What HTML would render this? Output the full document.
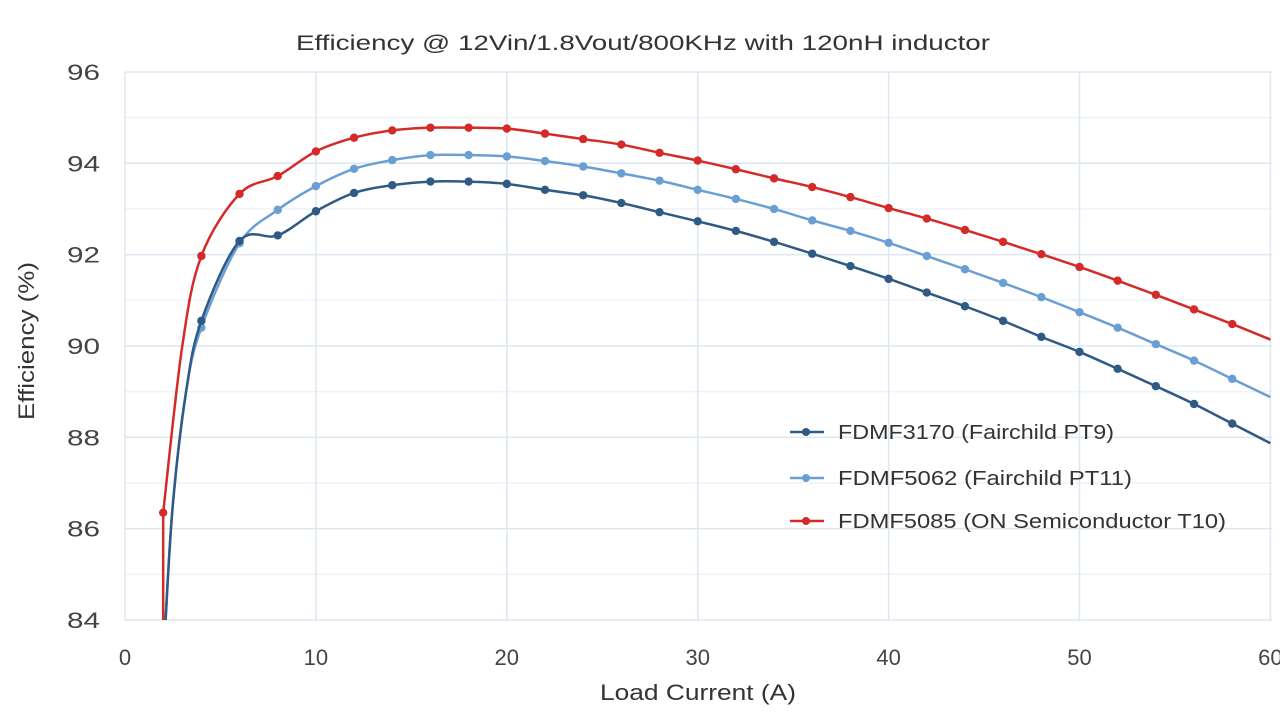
<!DOCTYPE html>
<html><head><meta charset="utf-8"><style>
html,body{margin:0;padding:0;background:#fff;}
svg text{font-family:"Liberation Sans",sans-serif;}
</style></head><body>
<svg id="s" width="1280" height="721" xmlns="http://www.w3.org/2000/svg">
<defs><clipPath id="c"><rect x="125" y="60" width="1150" height="560"/></clipPath></defs>
<g id="grid"></g>
<text x="296" y="50" font-size="21" fill="#333" textLength="694" lengthAdjust="spacingAndGlyphs">Efficiency @ 12Vin/1.8Vout/800KHz with 120nH inductor</text>
<g id="yl" font-size="22" fill="#444" text-anchor="end"></g>
<g id="xl" font-size="22" fill="#444" text-anchor="middle"></g>
<text x="600" y="700" font-size="22" fill="#333" textLength="196" lengthAdjust="spacingAndGlyphs">Load Current (A)</text>
<text transform="translate(34,420) rotate(-90)" font-size="22" fill="#333" textLength="158" lengthAdjust="spacingAndGlyphs">Efficiency (%)</text>
<g id="series" clip-path="url(#c)"></g>
<g font-size="20" fill="#333">
<line x1="790" y1="432" x2="824" y2="432" stroke="#2f5a84" stroke-width="2.5"/><circle cx="806" cy="432" r="4" fill="#2f5a84"/>
<text x="838" y="439" textLength="276" lengthAdjust="spacingAndGlyphs">FDMF3170 (Fairchild PT9)</text>
<line x1="790" y1="478" x2="824" y2="478" stroke="#6a9fd4" stroke-width="2.5"/><circle cx="806" cy="478" r="4" fill="#6a9fd4"/>
<text x="838" y="485" textLength="294" lengthAdjust="spacingAndGlyphs">FDMF5062 (Fairchild PT11)</text>
<line x1="790" y1="521" x2="824" y2="521" stroke="#d42a2a" stroke-width="2.5"/><circle cx="806" cy="521" r="4" fill="#d42a2a"/>
<text x="838" y="528" textLength="388" lengthAdjust="spacingAndGlyphs">FDMF5085 (ON Semiconductor T10)</text>
</g>
</svg>
<script>
const X=v=>125+v*19.09, Y=v=>620-(v-84)*45.67;
const ns="http://www.w3.org/2000/svg";
function el(p,t,a,txt){const e=document.createElementNS(ns,t);for(const k in a)e.setAttribute(k,a[k]);if(txt!==undefined)e.textContent=txt;document.getElementById(p).appendChild(e);}
for(let v=84;v<=96;v++){el("grid","line",{x1:125,x2:1272,y1:Y(v),y2:Y(v),stroke:v%2?"#eef3f8":"#dde7f1","stroke-width":1.5});}
for(let v=0;v<=60;v+=10){el("grid","line",{x1:X(v),x2:X(v),y1:72,y2:620,stroke:"#dde7f1","stroke-width":1.5});}
for(let v=84;v<=96;v+=2)el("yl","text",{x:100,y:Y(v)+8,textLength:33,lengthAdjust:"spacingAndGlyphs"},v);
for(let v=0;v<=60;v+=10)el("xl","text",{x:X(v),y:665},v);
const xs=[];for(let i=4;i<=60;i+=2)xs.push(i);
const red=[86.35,91.97,93.33,93.72,94.26,94.56,94.72,94.78,94.78,94.76,94.65,94.53,94.41,94.23,94.06,93.87,93.67,93.48,93.26,93.02,92.79,92.54,92.28,92.01,91.73,91.43,91.12,90.80,90.48,90.14];
const dk=[90.55,92.3,92.42,92.95,93.35,93.52,93.6,93.6,93.55,93.42,93.3,93.13,92.93,92.73,92.52,92.28,92.02,91.75,91.47,91.17,90.87,90.55,90.2,89.87,89.5,89.12,88.73,88.3,87.87];
const lt=[90.4,92.25,92.98,93.5,93.88,94.07,94.18,94.18,94.15,94.05,93.93,93.78,93.62,93.42,93.22,93.0,92.75,92.52,92.26,91.97,91.68,91.38,91.07,90.74,90.4,90.04,89.68,89.28,88.88];
function path(pts){let d="M"+pts[0][0]+","+pts[0][1];for(let i=0;i<pts.length-1;i++){const p0=pts[Math.max(0,i-1)],p1=pts[i],p2=pts[i+1],p3=pts[Math.min(pts.length-1,i+2)];const t=6;d+=` C${p1[0]+(p2[0]-p0[0])/t},${p1[1]+(p2[1]-p0[1])/t} ${p2[0]-(p3[0]-p1[0])/t},${p2[1]-(p3[1]-p1[1])/t} ${p2[0]},${p2[1]}`;}return d;}
function draw(vals,col){
  let pts=xs.map((x,i)=>[X(x),Y(vals[i])]);
  el("series","path",{d:path([[X(2.1),Y(83.8)],[X(2.5),Y(86.5)],[X(3.2),Y(89)],...pts]),fill:"none",stroke:col,"stroke-width":2.5});
  pts.slice(0,-1).forEach(p=>el("series","circle",{cx:p[0],cy:p[1],r:4.2,fill:col}));
}
draw(lt,"#6a9fd4");draw(dk,"#2f5a84");
const rx=[2,...xs];const rp=rx.map((x,i)=>[X(x),Y(red[i])]);
el("series","path",{d:"M"+X(2)+","+Y(83.8)+" L"+X(2)+","+Y(86.35)+" "+path([[X(2),Y(86.35)],[X(3),Y(90)],...rp.slice(1)]).slice(1).replace(/^[^C]*/,""),fill:"none",stroke:"#d42a2a","stroke-width":2.5});
rp.slice(0,-1).forEach(p=>el("series","circle",{cx:p[0],cy:p[1],r:4.2,fill:"#d42a2a"}));
</script>
</body></html>
